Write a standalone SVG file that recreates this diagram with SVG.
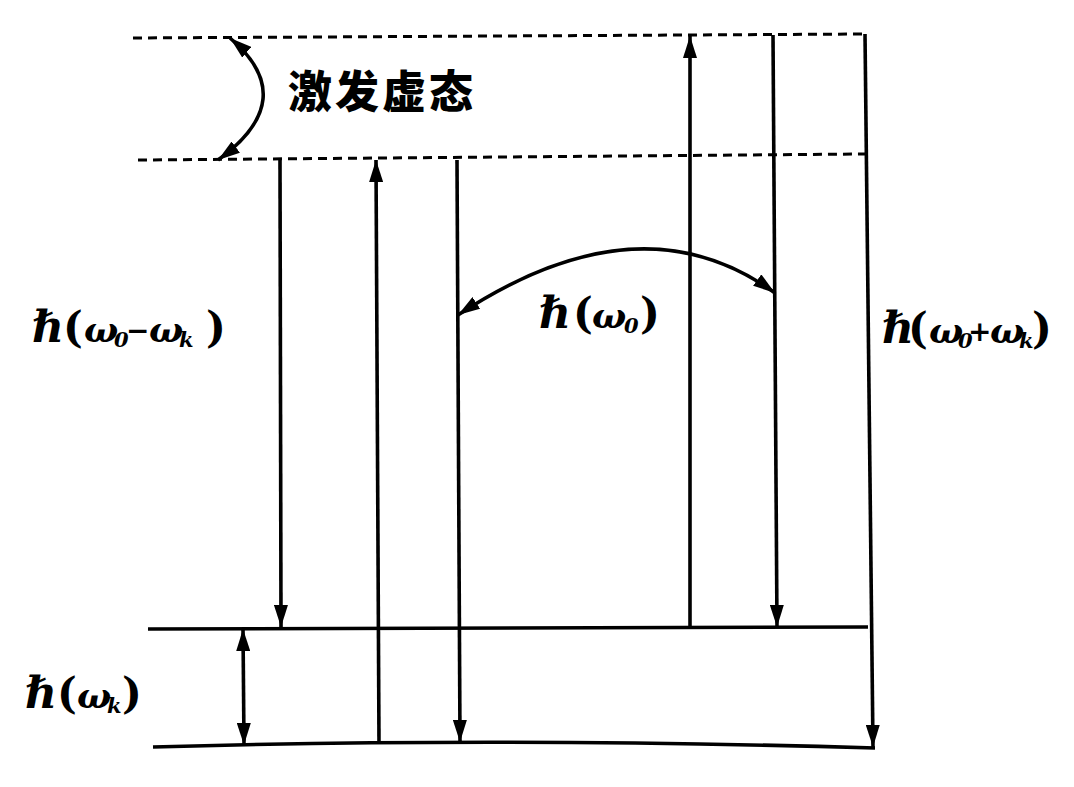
<svg xmlns="http://www.w3.org/2000/svg" width="1074" height="787" viewBox="0 0 1074 787">
<style>
.dash{stroke:#000;stroke-width:3;stroke-dasharray:9 6;fill:none}
.lvl{stroke:#000;stroke-width:3.6;fill:none}
.arr{stroke:#000;stroke-width:3.6;fill:none}
.math{font-family:"DejaVu Serif","Liberation Serif",serif;font-weight:bold;font-style:italic;font-size:36px;fill:#000}
.h{font-size:44px}
.p{font-size:42px;font-style:normal}
.op{font-size:28px;font-style:normal}
.sub{font-size:21px}
.cn{font-family:"Noto Sans CJK SC","Noto Sans CJK TC",sans-serif;font-weight:900;font-size:44px;fill:#000}
</style>
<defs>
<marker id="ah" viewBox="0 0 22 14" refX="22" refY="7" markerWidth="22" markerHeight="14" orient="auto-start-reverse" markerUnits="userSpaceOnUse">
<path d="M0,0 L22,7 L0,14 Z" fill="#000"/>
</marker>
</defs>
<rect width="1074" height="787" fill="#fff"/>
<g id="levels">
<line class="dash" x1="133" y1="38" x2="866" y2="34"/>
<line class="dash" x1="138" y1="160" x2="866" y2="154"/>
<line class="lvl" x1="148" y1="629" x2="868" y2="627"/>
<path class="lvl" d="M153 747 Q500 737 875 748"/>
</g>
<g id="connectors">
<line class="arr" x1="280" y1="160" x2="281" y2="627" marker-end="url(#ah)"/>
<line class="arr" x1="379" y1="743" x2="376" y2="160" marker-end="url(#ah)"/>
<line class="arr" x1="457" y1="160" x2="460" y2="742" marker-end="url(#ah)"/>
<line class="arr" x1="690" y1="627" x2="690" y2="36" marker-end="url(#ah)"/>
<line class="arr" x1="773" y1="35" x2="777" y2="627" marker-end="url(#ah)"/>
<line class="arr" x1="865" y1="34" x2="873" y2="747" marker-end="url(#ah)"/>
<line class="arr" x1="243" y1="629" x2="244" y2="745" marker-start="url(#ah)" marker-end="url(#ah)"/>
<path class="arr" d="M230 38 Q302 99 218 160" marker-start="url(#ah)" marker-end="url(#ah)"/>
<path class="arr" d="M458 315 Q640 195 775 293" marker-start="url(#ah)" marker-end="url(#ah)"/>
</g>
<g id="label-virtual">
<text class="cn" x="288" y="108" letter-spacing="3">激发虚态</text>
</g>
<g id="label-stokes">
<text class="math" y="342"><tspan class="h" x="32">ℏ</tspan><tspan class="p" x="63">(</tspan><tspan x="84">ω</tspan><tspan class="sub" x="114" y="347">0</tspan><tspan class="op" x="126" y="340">−</tspan><tspan x="149" y="342">ω</tspan><tspan class="sub" x="179" y="347">k</tspan><tspan class="p" x="206" y="342">)</tspan></text>
</g>
<g id="label-rayleigh">
<text class="math" y="328"><tspan class="h" x="539">ℏ</tspan><tspan class="p" x="573">(</tspan><tspan x="592">ω</tspan><tspan class="sub" x="624" y="333">0</tspan><tspan class="p" x="640" y="328">)</tspan></text>
</g>
<g id="label-antistokes">
<text class="math" y="343"><tspan class="h" x="882">ℏ</tspan><tspan class="p" x="908">(</tspan><tspan x="929">ω</tspan><tspan class="sub" x="958" y="348">0</tspan><tspan class="op" x="968" y="341">+</tspan><tspan x="990" y="343">ω</tspan><tspan class="sub" x="1019" y="348">k</tspan><tspan class="p" x="1032" y="343">)</tspan></text>
</g>
<g id="label-phonon">
<text class="math" y="708"><tspan class="h" x="25">ℏ</tspan><tspan class="p" x="57">(</tspan><tspan x="77">ω</tspan><tspan class="sub" x="107" y="713">k</tspan><tspan class="p" x="122" y="708">)</tspan></text>
</g>
</svg>
